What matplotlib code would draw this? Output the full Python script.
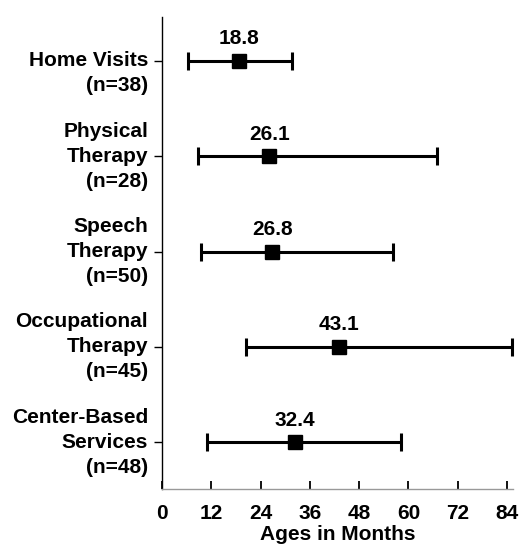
import matplotlib
matplotlib.use("Agg")
import matplotlib.pyplot as plt

plt.rcParams['font.family'] = ['Liberation Sans', 'DejaVu Sans']
plt.rcParams['font.weight'] = 'bold'

# data (months)
services = ["Home Visits", "Physical\nTherapy", "Speech\nTherapy",
            "Occupational\nTherapy", "Center-Based\nServices"]
n_counts = [38, 28, 50, 45, 48]
means = [18.8, 26.1, 26.8, 43.1, 32.4]
lows = [6.3, 8.8, 9.5, 20.5, 11.0]
highs = [31.6, 66.9, 56.2, 85.2, 58.2]
xticks = [0, 12, 24, 36, 48, 60, 72, 84]

FS = 15

fig = plt.figure(figsize=(5.21, 5.56), dpi=100)
ax = fig.add_axes([0.311, 0.1205, 0.674, 0.849])

ypos = list(range(len(services)))
for y, m, lo, hi in zip(ypos, means, lows, highs):
    ax.errorbar([m], [y], xerr=[[m - lo], [hi - m]], fmt='s', color='black',
                ecolor='black', elinewidth=2.2, capsize=6.5, capthick=2.2,
                markersize=10, clip_on=False, zorder=3)
    ax.annotate(f"{m}", xy=(m, y), xytext=(0, 22), textcoords='offset pixels',
                ha='center', va='center', fontsize=FS, fontweight='bold')

# multi-line category labels, line above "(n=..)" sits on the tick
for y, name, n in zip(ypos, services, n_counts):
    lines = name.split("\n") + [f"(n={n})"]
    anchor = len(lines) - 2
    for j, line in enumerate(lines):
        ax.annotate(line, xy=(0, y), xycoords=('axes fraction', 'data'),
                    xytext=(-14, -(j - anchor) * 25), textcoords='offset pixels',
                    ha='right', va='center', fontsize=FS, fontweight='bold')

ax.set_xlim(0, 85.5)
ax.set_ylim(4.49, -0.46)
ax.set_xticks(xticks)
ax.set_xticklabels([str(t) for t in xticks], fontsize=FS, fontweight='bold')
ax.set_yticks(ypos)
ax.set_yticklabels([])

ax.tick_params(axis='x', direction='in', length=6, width=1.3, pad=11)
ax.tick_params(axis='y', direction='out', length=6, width=1)
ax.set_xlabel("Ages in Months", fontsize=FS, fontweight='bold', labelpad=1)

ax.spines['top'].set_visible(False)
ax.spines['right'].set_visible(False)
ax.spines['left'].set_linewidth(1)
ax.spines['bottom'].set_color('#999999')
ax.spines['bottom'].set_linewidth(1)

fig.savefig("out.png", dpi=100)
